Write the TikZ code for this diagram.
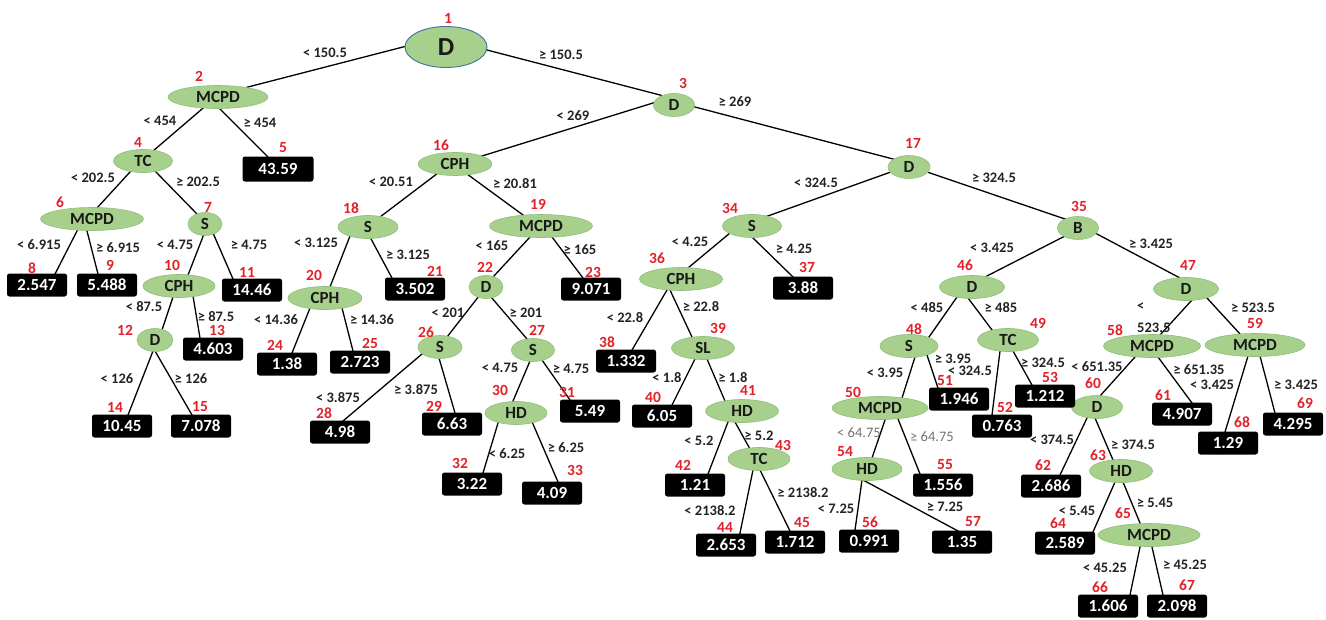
\documentclass[tikz,border=0pt]{standalone}
\usepackage{fontspec}
\setmainfont{Carlito}
\usetikzlibrary{shapes.geometric,backgrounds}
\definecolor{ngreen}{RGB}{168,208,141}
\definecolor{nedge}{RGB}{145,190,120}
\definecolor{nred}{RGB}{228,32,40}
\definecolor{ltxt}{RGB}{35,35,35}
\definecolor{gtxt}{RGB}{115,115,115}
\definecolor{rootb}{RGB}{65,113,156}
\tikzset{
 enode/.style={ellipse, fill=ngreen, draw=nedge, line width=0.6pt, inner sep=0pt, minimum height=23pt, font=\fontsize{17}{17}\selectfont\bfseries, text=black!90},
 leaf/.style={rectangle, rounded corners=2.5pt, fill=black, text=white, inner sep=0pt, minimum width=60pt, minimum height=23pt, font=\fontsize{17}{17}\selectfont\bfseries},
 num/.style={text=nred, inner sep=0pt, font=\fontsize{15.5}{15.5}\selectfont\bfseries},
 elab/.style={text=ltxt, inner sep=0pt, font=\fontsize{14.5}{14.5}\selectfont\bfseries},
 glab/.style={text=gtxt, inner sep=0pt, font=\fontsize{14.5}{14.5}\selectfont},
 conn/.style={line width=1.3pt, black, shorten <=-2pt, shorten >=-2pt}
}
\newcommand{\EN}[5]{\node[enode, minimum width=#4pt] (#1) at (#2,#3) {#5};}
\newcommand{\LF}[4]{\node[leaf] (#1) at (#2,#3) {#4};}
\newcommand{\Cn}[4]{\draw[conn] ([shift={(#2)}]a#1.center) -- ([shift={(#4)}]a#3.center);}
\begin{document}
\begin{tikzpicture}[x=1pt,y=-1pt]
\useasboundingbox (0,0) rectangle (1326,619);
% decision nodes
\node[enode, minimum width=82pt, minimum height=41pt, draw=rootb, line width=0.9pt, font=\fontsize{26}{26}\selectfont\bfseries] (a1) at (446,47) {D};
\EN{a2}{218}{97}{100}{MCPD}
\EN{a3}{674}{105}{41}{D}
\EN{a4}{143}{161}{59}{TC}
\EN{a16}{455}{164}{74}{CPH}
\EN{a17}{909}{167}{42}{D}
\EN{a6}{92}{219}{103}{MCPD}
\EN{a7}{205}{224}{34}{S}
\EN{a18}{368}{227}{60}{S}
\EN{a19}{541}{226}{103}{MCPD}
\EN{a34}{752}{226}{59}{S}
\EN{a35}{1078}{228}{41}{B}
\EN{a10}{179}{286}{72}{CPH}
\EN{a20}{325}{298}{74}{CPH}
\EN{a22}{486}{287}{34}{D}
\EN{a36}{681}{279}{83}{CPH}
\EN{a46}{972}{287}{65}{D}
\EN{a47}{1186}{289}{65}{D}
\EN{a12}{155}{340}{36}{D}
\EN{a26}{440}{347}{44}{S}
\EN{a27}{533}{350}{43}{S}
\EN{a39}{703}{348}{63}{SL}
\EN{a48}{909}{346}{58}{S}
\EN{a49}{1008}{340}{61}{TC}
\EN{a58}{1152}{346}{97}{MCPD}
\EN{a59}{1255}{345}{100}{MCPD}
\EN{a30}{516}{413}{62}{HD}
\EN{a41}{742}{411}{73}{HD}
\EN{a50}{880}{408}{96}{MCPD}
\EN{a60}{1097}{407}{51}{D}
\EN{a43}{759}{459}{62}{TC}
\EN{a54}{867}{469}{70}{HD}
\EN{a63}{1121}{471}{63}{HD}
\EN{a65}{1149}{535}{102}{MCPD}
% leaves
\node[leaf, minimum width=71pt, minimum height=25pt] (a5) at (278,169) {43.59};
\LF{a8}{37}{285}{2.547}
\LF{a9}{107}{285}{5.488}
\LF{a11}{252}{290}{14.46}
\LF{a21}{415}{289}{3.502}
\LF{a23}{591}{289}{9.071}
\LF{a37}{803}{288}{3.88}
\LF{a13}{213}{349}{4.603}
\LF{a24}{287}{364}{1.38}
\LF{a25}{360}{362}{2.723}
\LF{a38}{626}{361}{1.332}
\LF{a14}{122}{426}{10.45}
\LF{a15}{201}{426}{7.078}
\LF{a28}{340}{432}{4.98}
\LF{a29}{452}{424}{6.63}
\LF{a31}{590}{411}{5.49}
\LF{a40}{662}{416}{6.05}
\LF{a51}{959}{399}{1.946}
\LF{a53}{1045}{396}{1.212}
\LF{a52}{1002}{426}{0.763}
\LF{a61}{1182}{414}{4.907}
\LF{a68}{1228}{443}{1.29}
\LF{a69}{1293}{424}{4.295}
\LF{a32}{472}{484}{3.22}
\LF{a33}{552}{493}{4.09}
\LF{a42}{695}{485}{1.21}
\LF{a55}{943}{485}{1.556}
\LF{a62}{1051}{486}{2.686}
\LF{a44}{726}{545}{2.653}
\LF{a45}{795}{542}{1.712}
\LF{a56}{869}{541}{0.991}
\LF{a57}{962}{542}{1.35}
\LF{a64}{1065}{543}{2.589}
\LF{a66}{1108}{606}{1.606}
\LF{a67}{1177}{606}{2.098}
% connectors
\begin{pgfonlayer}{background}
\fill[white] (0,0) rectangle (1326,619);
\Cn{1}{-43,0}{2}{30,-10}
\Cn{1}{41,3}{3}{-14,-10}
\Cn{2}{-16,12}{4}{10,-10}
\Cn{2}{2,12}{5}{-10,-12}
\Cn{3}{-21,-2}{16}{27,-8}
\Cn{3}{21,2}{17}{-16,-8}
\Cn{4}{-13,11}{6}{5,-11}
\Cn{4}{12,10}{7}{-8,-10}
\Cn{6}{-15,12}{8}{18,-11}
\Cn{6}{-5,12}{9}{-9,-11}
\Cn{7}{-1,10}{10}{9,-11}
\Cn{7}{8,9}{11}{-19,-11}
\Cn{10}{-6,11}{12}{7,-10}
\Cn{10}{14,10}{13}{-13,-11}
\Cn{12}{-2,11}{14}{6,-11}
\Cn{12}{0,11}{15}{-9,-11}
\Cn{16}{-17,9}{18}{12,-10}
\Cn{16}{12,10}{19}{-18,-11}
\Cn{18}{-18,9}{20}{5,-11}
\Cn{18}{2,10}{21}{-23,-11}
\Cn{19}{-11,11}{22}{7,-10}
\Cn{19}{11,11}{23}{-8,-11}
\Cn{20}{-15,10}{24}{5,-11}
\Cn{20}{17,10}{25}{-7,-11}
\Cn{22}{-7,9}{26}{7,-10}
\Cn{22}{5,10}{27}{-6,-11}
\Cn{26}{-18,7}{28}{3,-11}
\Cn{26}{-1,11}{29}{3,-11}
\Cn{27}{-3,11}{30}{-3,-12}
\Cn{27}{9,10}{31}{-20,-11}
\Cn{30}{-18,10}{32}{11,-11}
\Cn{30}{17,11}{33}{6,-11}
\Cn{17}{-21,6}{34}{13,-9}
\Cn{17}{21,6}{35}{-13,-9}
\Cn{34}{-22,7}{36}{7,-11}
\Cn{34}{0,11}{37}{-10,-11}
\Cn{36}{-14,11}{38}{6,-11}
\Cn{36}{-11,11}{39}{-11,-11}
\Cn{39}{-8,11}{40}{10,-11}
\Cn{39}{4,11}{41}{-17,-10}
\Cn{41}{-14,11}{42}{13,-11}
\Cn{41}{-7,11}{43}{-9,-10}
\Cn{43}{-6,11}{44}{14,-12}
\Cn{43}{1,11}{45}{-5,-11}
\Cn{35}{-13,8}{46}{13,-10}
\Cn{35}{19,6}{47}{-6,-11}
\Cn{46}{-15,10}{48}{20,-9}
\Cn{46}{-4,11}{49}{-16,-10}
\Cn{48}{6,11}{50}{22,-10}
\Cn{48}{18,9}{51}{-21,-11}
\Cn{49}{-8,11}{52}{-10,-11}
\Cn{49}{5,11}{53}{-13,-11}
\Cn{47}{6,11}{58}{8,-11}
\Cn{47}{21,9}{59}{-15,-11}
\Cn{58}{-17,11}{60}{3,-11}
\Cn{58}{6,11}{61}{10,-11}
\Cn{59}{-7,11}{68}{-3,-11}
\Cn{59}{5,11}{69}{-18,-11}
\Cn{50}{5,12}{54}{5,-11}
\Cn{50}{18,11}{55}{-23,-11}
\Cn{54}{-5,11}{56}{-14,-11}
\Cn{54}{-4,11}{57}{-4,-11}
\Cn{60}{-10,11}{62}{9,-11}
\Cn{60}{-2,11}{63}{-8,-11}
\Cn{63}{-6,11}{64}{28,-11}
\Cn{63}{2,11}{65}{-9,-12}
\Cn{65}{-9,12}{66}{22,-11}
\Cn{65}{3,12}{67}{-14,-11}
\end{pgfonlayer}
% red numbers
\foreach \n/\x/\y in {1/448/18,2/199/76,3/683/83,4/138/142,5/283/148,16/441/145,17/913/143,
6/60/202,7/208/207,18/351/208,19/538/204,34/730/208,35/1079/206,
8/32/268,9/110/265,10/172/265,11/247/272,20/314/275,21/435/271,22/485/267,23/593/272,
36/657/258,37/807/267,46/965/265,47/1188/265,
12/125/330,13/217/330,24/275/345,25/370/343,26/426/332,27/537/330,38/607/342,39/718/328,
48/914/329,49/1038/323,58/1115/330,59/1255/323,
14/115/407,15/200/407,28/324/413,29/434/406,30/500/390,31/567/392,40/653/397,41/748/390,
50/853/392,51/945/381,53/1050/377,52/1005/407,60/1093/383,61/1163/395,68/1242/422,69/1305/403,
32/460/463,33/575/470,42/683/465,43/783/445,54/845/452,55/945/465,62/1043/465,63/1098/455,
44/725/527,45/802/523,56/870/522,57/973/522,64/1058/523,65/1123/513,66/1100/587,67/1187/585}
  \node[num] (r\n) at (\x,\y) {\n};
% edge labels
\foreach \i/\x/\y/\lab in {1/325/53/< 150.5, 2/561/55/≥ 150.5, 3/160/121/< 454, 4/260/123/≥ 454,
5/573/116/< 269, 6/735/102/≥ 269, 7/93/178/< 202.5, 8/198/182/≥ 202.5,
9/391/182/< 20.51, 10/515/184/≥ 20.81, 11/816/183/< 324.5, 12/994/178/≥ 324.5,
13/39/245/< 6.915, 14/118/248/≥ 6.915, 15/175/245/< 4.75, 16/249/245/≥ 4.75,
17/316/243/< 3.125, 18/408/255/≥ 3.125, 19/492/246/< 165, 20/580/250/≥ 165,
21/690/242/< 4.25, 22/794/249/≥ 4.25, 23/992/248/< 3.425, 24/1151/244/≥ 3.425,
25/144/307/< 87.5, 26/216/317/≥ 87.5, 27/276/320/< 14.36, 28/372/320/≥ 14.36,
29/448/313/< 201, 30/526/313/≥ 201, 31/625/318/< 22.8, 32/701/307/≥ 22.8,
33/927/308/< 485, 34/1001/308/≥ 485, 36/1253/308/≥ 523.5,
37/117/379/< 126, 38/191/379/≥ 126, 39/338/398/< 3.875, 40/416/390/≥ 3.875,
41/500/368/< 4.75, 42/571/369/≥ 4.75, 43/667/378/< 1.8, 44/733/378/≥ 1.8,
45/953/359/≥ 3.95, 46/885/373/< 3.95, 47/970/371/< 324.5, 48/1043/363/≥ 324.5,
49/1097/367/< 651.35, 50/1199/370/≥ 651.35, 51/1212/385/< 3.425, 52/1296/385/≥ 3.425,
53/507/454/< 6.25, 54/566/448/≥ 6.25, 55/699/441/< 5.2, 56/759/436/≥ 5.2,
59/1052/440/< 374.5, 60/1133/445/≥ 374.5, 61/710/511/< 2138.2, 62/803/493/≥ 2138.2,
63/836/509/< 7.25, 64/945/507/≥ 7.25, 65/1077/511/< 5.45, 66/1155/503/≥ 5.45,
67/1105/568/< 45.25, 68/1185/565/≥ 45.25}
  \node[elab] (l\i) at (\x,\y) {\lab};
\node[elab, align=left, anchor=west, font=\fontsize{14.5}{22}\selectfont\bfseries] (l35) at (1137,318) {<\\523.5};
\node[glab] (l57) at (859,433) {< 64.75};
\node[glab] (l58) at (932,437) {≥ 64.75};
\end{tikzpicture}
\end{document}
